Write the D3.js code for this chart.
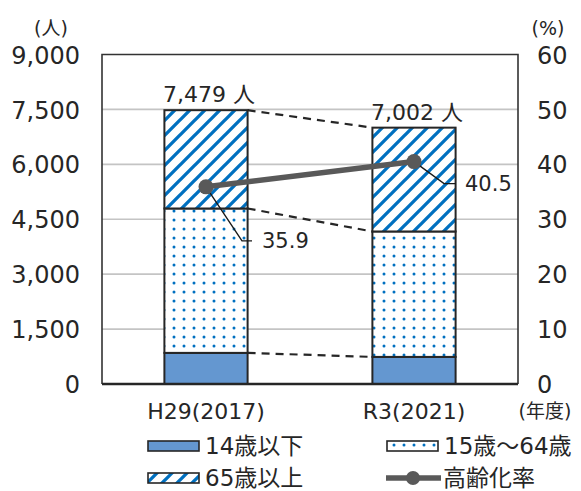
<!DOCTYPE html>
<html>
<head>
<meta charset="utf-8">
<script src="https://cdn.jsdelivr.net/npm/d3@7"></script>
<style>
  html, body { margin: 0; padding: 0; background: #fff; }
  svg { display: block; }
  text { font-family: "DejaVu Sans", "Noto Sans CJK JP", sans-serif; fill: #262626; }
</style>
</head>
<body>
<script>
// Population by age group (persons) and ageing rate (%)
const years = ["H29(2017)", "R3(2021)"];
const under14 = [850, 740];
const age15to64 = [3944, 3426];
const over65 = [2685, 2836];
const agingRate = [35.9, 40.5];
const leftTicks = [0, 1500, 3000, 4500, 6000, 7500, 9000];
const rightTicks = [0, 10, 20, 30, 40, 50, 60];
const seriesNames = ["14歳以下", "15歳～64歳", "65歳以上", "高齢化率"];

const W = 581, H = 491;
const plot = { left: 102, right: 518, top: 54.5, bottom: 384 };

const svg = d3.select("body").append("svg").attr("width", W).attr("height", H);
const defs = svg.append("defs");

// dotted fill for the working-age group
const dots = defs.append("pattern").attr("id", "dots")
  .attr("patternUnits", "userSpaceOnUse").attr("width", 10).attr("height", 9)
  .attr("x", 0).attr("y", 0);
dots.append("rect").attr("width", 10).attr("height", 9).attr("fill", "#fff");
dots.append("circle").attr("cx", 4).attr("cy", 4).attr("r", 1.5).attr("fill", "#0070c0");

// diagonal hatch for the 65+ group
const hatch = defs.append("pattern").attr("id", "hatch")
  .attr("patternUnits", "userSpaceOnUse").attr("width", 15).attr("height", 15);
hatch.append("rect").attr("width", 15).attr("height", 15).attr("fill", "#fff");
hatch.append("path").attr("d", "M-4,4 L4,-4 M0,15 L15,0 M11,19 L19,11")
  .attr("stroke", "#0070c0").attr("stroke-width", 3.3);

const x = d3.scaleBand().domain(years).range([plot.left, plot.right]).paddingInner(0.6).paddingOuter(0.3);
const y = d3.scaleLinear().domain([0, 9000]).range([plot.bottom, plot.top]);
const yR = d3.scaleLinear().domain([0, 60]).range([plot.bottom, plot.top]);

// gridlines
svg.append("g").selectAll("line").data(leftTicks.filter(t => t > 0 && t < 9000)).join("line")
  .attr("x1", plot.left).attr("x2", plot.right)
  .attr("y1", d => y(d)).attr("y2", d => y(d))
  .attr("stroke", "#c4c4c4").attr("stroke-width", 1.6);

// plot frame (left, top, right)
svg.append("path")
  .attr("d", `M${plot.left},${plot.bottom} V${plot.top} H${plot.right} V${plot.bottom}`)
  .attr("fill", "none").attr("stroke", "#333").attr("stroke-width", 1.6);

// left axis labels
svg.append("g").attr("transform", `translate(80,0)`)
  .call(d3.axisLeft(y).tickValues(leftTicks).tickSize(0).tickPadding(0).tickFormat(d3.format(",")))
  .call(g => g.select(".domain").remove())
  .selectAll("text").attr("font-size", 24).attr("fill", "#262626")
  .style("font-family", '"DejaVu Sans", "Noto Sans CJK JP", sans-serif').attr("dy", "0.36em");

// right axis labels
svg.append("g").attr("transform", `translate(537,0)`)
  .call(d3.axisRight(yR).tickValues(rightTicks).tickSize(0).tickPadding(0))
  .call(g => g.select(".domain").remove())
  .selectAll("text").attr("font-size", 24).attr("fill", "#262626")
  .style("font-family", '"DejaVu Sans", "Noto Sans CJK JP", sans-serif').attr("dy", "0.36em");

// units
svg.append("text").attr("x", 51).attr("y", 28).attr("text-anchor", "middle").attr("dy", "0.36em")
  .attr("font-size", 19).text("(人)");
svg.append("text").attr("x", 548).attr("y", 28).attr("text-anchor", "middle").attr("dy", "0.36em")
  .attr("font-size", 19).text("(%)");

// stacked bars
const stackData = years.map((yr, i) => ({ year: yr, a: under14[i], b: age15to64[i], c: over65[i] }));
const stack = d3.stack().keys(["a", "b", "c"])(stackData);
const fills = { a: "#6497d0", b: "url(#dots)", c: "url(#hatch)" };

// dashed connectors between matching segment tops
const bw = x.bandwidth();
stack.forEach(layer => {
  svg.append("line")
    .attr("x1", x(years[0]) + bw).attr("y1", y(layer[0][1]))
    .attr("x2", x(years[1])).attr("y2", y(layer[1][1]))
    .attr("stroke", "#262626").attr("stroke-width", 2.2).attr("stroke-dasharray", "8,6");
});

stack.forEach(layer => {
  svg.append("g").selectAll("rect").data(layer).join("rect")
    .attr("x", d => x(d.data.year)).attr("width", bw)
    .attr("y", d => y(d[1])).attr("height", d => y(d[0]) - y(d[1]))
    .attr("fill", fills[layer.key]).attr("stroke", "#262626").attr("stroke-width", 2);
});

// bottom axis line
svg.append("line").attr("x1", plot.left).attr("x2", plot.right)
  .attr("y1", plot.bottom).attr("y2", plot.bottom)
  .attr("stroke", "#262626").attr("stroke-width", 2.4);

// totals above bars
stackData.forEach((d, i) => {
  const total = d.a + d.b + d.c;
  svg.append("text").attr("x", x(d.year) + bw / 2 + 3).attr("y", y(total) - 8)
    .attr("text-anchor", "middle").attr("font-size", 22)
    .text(d3.format(",")(total) + " 人");
});

// x labels
svg.append("g").selectAll("text").data(years).join("text")
  .attr("x", d => x(d) + bw / 2).attr("y", 411).attr("dy", "0.36em")
  .attr("text-anchor", "middle").attr("font-size", 22).text(d => d);
svg.append("text").attr("x", 545).attr("y", 411).attr("dy", "0.36em")
  .attr("text-anchor", "middle").attr("font-size", 19).text("(年度)");

// ageing rate line
const cx = i => x(years[i]) + bw / 2;
const pts = agingRate.map((v, i) => [cx(i), yR(v)]);

// leader lines to the rate labels
const leaders = [
  { dx: 36, dy: 54, h: 10, lx: 262 },
  { dx: 30, dy: 22, h: 12, lx: 465 }
];
agingRate.forEach((v, i) => {
  const [px, py] = pts[i];
  const L = leaders[i];
  svg.append("path")
    .attr("d", `M${px},${py} L${px + L.dx},${py + L.dy} h${L.h}`)
    .attr("fill", "none").attr("stroke", "#1a1a1a").attr("stroke-width", 1.4);
  svg.append("text").attr("x", L.lx).attr("y", py + L.dy).attr("dy", "0.36em")
    .attr("font-size", 21).text(d3.format(".1f")(v));
});

svg.append("path").attr("d", d3.line()(pts))
  .attr("fill", "none").attr("stroke", "#595959").attr("stroke-width", 5.5);
svg.append("g").selectAll("circle").data(pts).join("circle")
  .attr("cx", d => d[0]).attr("cy", d => d[1]).attr("r", 7.5).attr("fill", "#595959");

// legend
const legend = svg.append("g");
const items = [
  { name: seriesNames[0], x: 148, y: 446, kind: "rect", fill: fills.a },
  { name: seriesNames[1], x: 387, y: 446, kind: "rect", fill: fills.b },
  { name: seriesNames[2], x: 148, y: 478, kind: "rect", fill: fills.c },
  { name: seriesNames[3], x: 386, y: 478, kind: "line" }
];
items.forEach(it => {
  if (it.kind === "rect") {
    legend.append("rect").attr("x", it.x).attr("y", it.y - 5).attr("width", 51).attr("height", 10)
      .attr("fill", it.fill).attr("stroke", "#262626").attr("stroke-width", 1.6);
    legend.append("text").attr("x", it.x + 57).attr("y", it.y).attr("dy", "0.36em")
      .attr("font-size", 23).text(it.name);
  } else {
    legend.append("line").attr("x1", it.x).attr("x2", it.x + 55).attr("y1", it.y).attr("y2", it.y)
      .attr("stroke", "#595959").attr("stroke-width", 5.5);
    legend.append("circle").attr("cx", it.x + 27).attr("cy", it.y).attr("r", 7).attr("fill", "#595959");
    legend.append("text").attr("x", it.x + 57).attr("y", it.y).attr("dy", "0.36em")
      .attr("font-size", 23).text(it.name);
  }
});
</script>
</body>
</html>
